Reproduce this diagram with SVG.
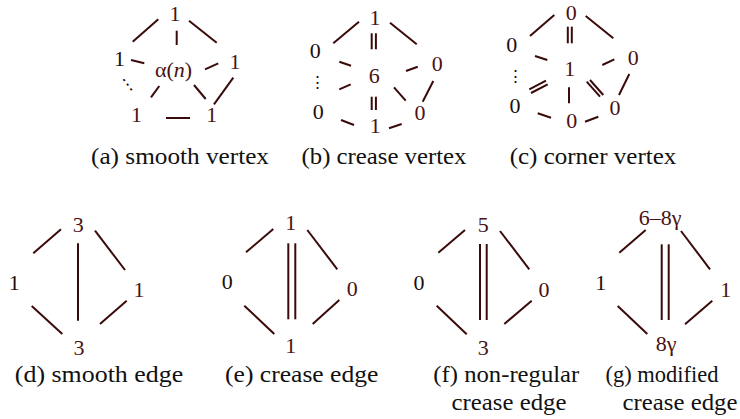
<svg xmlns="http://www.w3.org/2000/svg" width="740" height="419" viewBox="0 0 740 419">
<style>
.ln{stroke:#3a0a0a;stroke-width:2;stroke-linecap:butt;fill:none}
.n{font-size:22px;fill:#4a1212;text-anchor:middle}
.k{fill:#1a1010}
.it{font-style:italic}
.dots{font-size:17px;fill:#1a1010;text-anchor:middle}
.cap{font-size:23px;fill:#111;text-anchor:middle}
</style>
<rect width="740" height="419" fill="#fff"/>
<g id="connectors">
<line class="ln" x1="132.7" y1="41.7" x2="158.3" y2="19.3"/>
<line class="ln" x1="189" y1="20.7" x2="216.7" y2="42.7"/>
<line class="ln" x1="176.7" y1="30.7" x2="176.7" y2="45"/>
<line class="ln" x1="131" y1="60" x2="144.3" y2="63.3"/>
<line class="ln" x1="205" y1="69.3" x2="218.3" y2="63.3"/>
<line class="ln" x1="151" y1="97.3" x2="159.3" y2="86"/>
<line class="ln" x1="194" y1="85" x2="205.7" y2="99"/>
<line class="ln" x1="233.3" y1="77.7" x2="214" y2="104.3"/>
<line class="ln" x1="166" y1="118" x2="190" y2="118"/>
<line class="ln" x1="333.3" y1="43.3" x2="359" y2="21.7"/>
<line class="ln" x1="390" y1="22.7" x2="416.7" y2="44.3"/>
<line class="ln" x1="371.7" y1="33.3" x2="371.7" y2="49.3"/>
<line class="ln" x1="375.9" y1="33.3" x2="375.9" y2="49.3"/>
<line class="ln" x1="339.3" y1="61.7" x2="351" y2="65.7"/>
<line class="ln" x1="406" y1="71" x2="417.7" y2="66.7"/>
<line class="ln" x1="339.3" y1="89.3" x2="350.7" y2="84.3"/>
<line class="ln" x1="371.7" y1="96.7" x2="371.7" y2="110"/>
<line class="ln" x1="375.9" y1="96.7" x2="375.9" y2="110"/>
<line class="ln" x1="394" y1="87.3" x2="405.7" y2="100.7"/>
<line class="ln" x1="433.3" y1="81" x2="422.7" y2="101.7"/>
<line class="ln" x1="341" y1="120" x2="354" y2="125"/>
<line class="ln" x1="389" y1="128.3" x2="401.7" y2="124"/>
<line class="ln" x1="530" y1="36" x2="554.3" y2="15"/>
<line class="ln" x1="585.7" y1="16" x2="613.3" y2="38.3"/>
<line class="ln" x1="567.8" y1="26.7" x2="567.8" y2="43.3"/>
<line class="ln" x1="571.8" y1="26.7" x2="571.8" y2="43.3"/>
<line class="ln" x1="535" y1="56" x2="547.3" y2="60"/>
<line class="ln" x1="602.3" y1="65" x2="614.3" y2="59.3"/>
<line class="ln" x1="529.3" y1="89.3" x2="546" y2="80.7"/>
<line class="ln" x1="531" y1="93" x2="547.7" y2="84.4"/>
<line class="ln" x1="569" y1="87.3" x2="569" y2="103.3"/>
<line class="ln" x1="586.7" y1="81.7" x2="600" y2="96.7"/>
<line class="ln" x1="590" y1="80" x2="603.3" y2="95"/>
<line class="ln" x1="629.3" y1="74" x2="619" y2="95"/>
<line class="ln" x1="537.7" y1="113.3" x2="551" y2="117.7"/>
<line class="ln" x1="585" y1="121.7" x2="598.3" y2="116.7"/>
<line class="ln" x1="33.3" y1="253.3" x2="61" y2="229.3"/>
<line class="ln" x1="95" y1="230.7" x2="125" y2="270"/>
<line class="ln" x1="78" y1="243.3" x2="78" y2="320.7"/>
<line class="ln" x1="31.7" y1="306" x2="62.3" y2="334"/>
<line class="ln" x1="100" y1="324" x2="126.7" y2="300.7"/>
<line class="ln" x1="246" y1="252.3" x2="273.3" y2="229"/>
<line class="ln" x1="307.3" y1="230" x2="337.3" y2="269.3"/>
<line class="ln" x1="288.3" y1="243.3" x2="288.3" y2="319.3"/>
<line class="ln" x1="295.3" y1="243.3" x2="295.3" y2="319.3"/>
<line class="ln" x1="244.3" y1="305.7" x2="274.3" y2="334"/>
<line class="ln" x1="312.7" y1="324" x2="339.3" y2="300"/>
<line class="ln" x1="438.3" y1="252.7" x2="465" y2="230"/>
<line class="ln" x1="500" y1="231" x2="529.3" y2="269.3"/>
<line class="ln" x1="480" y1="244" x2="480" y2="320"/>
<line class="ln" x1="486.7" y1="244" x2="486.7" y2="320"/>
<line class="ln" x1="436.7" y1="305.7" x2="466.7" y2="334.3"/>
<line class="ln" x1="504.3" y1="324" x2="531.7" y2="300.7"/>
<line class="ln" x1="619.3" y1="252.7" x2="645.7" y2="230"/>
<line class="ln" x1="681" y1="231" x2="710" y2="269.3"/>
<line class="ln" x1="661.7" y1="244.3" x2="661.7" y2="320"/>
<line class="ln" x1="668.7" y1="244.3" x2="668.7" y2="320"/>
<line class="ln" x1="617.7" y1="306" x2="647.3" y2="334"/>
<line class="ln" x1="685" y1="324.3" x2="712.3" y2="300.7"/>
</g>
<g font-family="'Liberation Serif', 'Times New Roman', 'DejaVu Serif', serif">
<g id="a-top"><text class="n" x="175" y="21">1</text></g>
<g id="a-left"><text class="n k" x="119.5" y="66">1</text></g>
<g id="a-center"><text class="n" x="173.5" y="77">α(<tspan class="it">n</tspan>)</text></g>
<g id="a-right"><text class="n" x="235" y="68.5">1</text></g>
<g id="a-dots"><text class="dots" x="127.5" y="90" transform="rotate(-37 127.5 84)">⋮</text></g>
<g id="a-botleft"><text class="n" x="136.5" y="121.7">1</text></g>
<g id="a-botright"><text class="n" x="211.7" y="121.7">1</text></g>
<g id="b-top"><text class="n" x="375" y="25">1</text></g>
<g id="b-left"><text class="n k" x="315.3" y="58.3">0</text></g>
<g id="b-center"><text class="n" x="374.3" y="83.3">6</text></g>
<g id="b-right"><text class="n" x="437.3" y="70.7">0</text></g>
<g id="b-dots"><text class="dots" x="317.7" y="88">⋮</text></g>
<g id="b-botleft"><text class="n k" x="318.3" y="119">0</text></g>
<g id="b-botright"><text class="n" x="420" y="120">0</text></g>
<g id="b-bottom"><text class="n" x="375.3" y="133">1</text></g>
<g id="c-top"><text class="n" x="571.3" y="19.5">0</text></g>
<g id="c-left"><text class="n k" x="511.7" y="51.7">0</text></g>
<g id="c-center"><text class="n" x="569.7" y="76">1</text></g>
<g id="c-right"><text class="n" x="633.3" y="65">0</text></g>
<g id="c-dots"><text class="dots" x="515.7" y="82">⋮</text></g>
<g id="c-botleft"><text class="n k" x="515" y="113.3">0</text></g>
<g id="c-botright"><text class="n" x="615" y="115">0</text></g>
<g id="c-bottom"><text class="n" x="571.7" y="128.3">0</text></g>
<g id="d-top"><text class="n" x="78.3" y="232.3">3</text></g>
<g id="d-left"><text class="n k" x="14.2" y="290">1</text></g>
<g id="d-right"><text class="n" x="139" y="296.7">1</text></g>
<g id="d-bottom"><text class="n" x="79" y="355">3</text></g>
<g id="e-top"><text class="n" x="290.7" y="230">1</text></g>
<g id="e-left"><text class="n k" x="227.3" y="289.3">0</text></g>
<g id="e-right"><text class="n" x="352.3" y="295.7">0</text></g>
<g id="e-bottom"><text class="n" x="290.7" y="353.3">1</text></g>
<g id="f-top"><text class="n" x="483.3" y="231.7">5</text></g>
<g id="f-left"><text class="n k" x="419" y="290">0</text></g>
<g id="f-right"><text class="n" x="544" y="296.7">0</text></g>
<g id="f-bottom"><text class="n" x="483.3" y="355">3</text></g>
<g id="g-top"><text class="n" x="660" y="225">6–8γ</text></g>
<g id="g-left"><text class="n k" x="600.7" y="290">1</text></g>
<g id="g-right"><text class="n" x="725.7" y="296.7">1</text></g>
<g id="g-bottom"><text class="n" x="666" y="351">8γ</text></g>
<g id="captions">
<text class="cap" x="180" y="164" textLength="178" lengthAdjust="spacingAndGlyphs">(a) smooth vertex</text>
<text class="cap" x="384" y="164" textLength="165" lengthAdjust="spacingAndGlyphs">(b) crease vertex</text>
<text class="cap" x="593" y="164" textLength="166.7" lengthAdjust="spacingAndGlyphs">(c) corner vertex</text>
<text class="cap" x="99" y="381.5" textLength="168.3" lengthAdjust="spacingAndGlyphs">(d) smooth edge</text>
<text class="cap" x="301.7" y="381.5" textLength="153.3" lengthAdjust="spacingAndGlyphs">(e) crease edge</text>
<text class="cap" x="506.3" y="381.5" textLength="146" lengthAdjust="spacingAndGlyphs">(f) non-regular</text>
<text class="cap" x="509" y="410" textLength="115" lengthAdjust="spacingAndGlyphs">crease edge</text>
<text class="cap" x="662" y="381.5" textLength="113" lengthAdjust="spacingAndGlyphs">(g) modified</text>
<text class="cap" x="680" y="410" textLength="115" lengthAdjust="spacingAndGlyphs">crease edge</text>
</g>
</g>
</svg>
